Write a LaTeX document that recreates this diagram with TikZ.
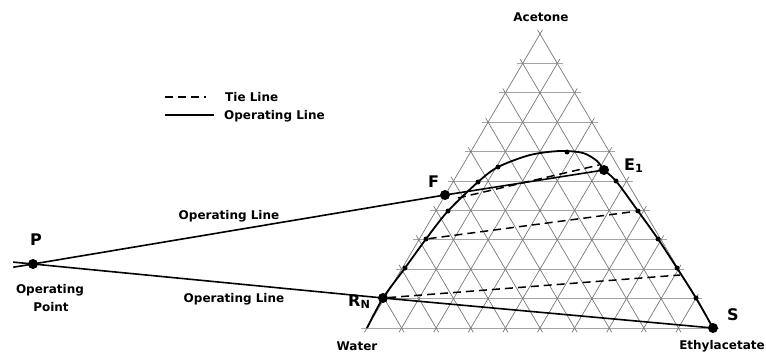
\documentclass[tikz,border=0pt]{standalone}
\usepackage{fontspec}
\setmainfont{DejaVu Sans}
\usepackage{tikz}
\usetikzlibrary{calc}
\definecolor{gridc}{RGB}{120,120,120}
\definecolor{hgridc}{RGB}{165,165,165}

\begin{document}
\begin{tikzpicture}[x=1pt, y=-1pt,
  every node/.style={font=\fontsize{12}{14}\selectfont\bfseries, inner sep=0pt},
  big/.style={font=\fontsize{16}{18}\selectfont\bfseries},
  dotbig/.style={circle, fill, minimum size=10pt, inner sep=0pt},
  dotsm/.style={circle, fill, minimum size=5pt, inner sep=0pt},
  gline/.style={gridc, line width=0.7pt, shorten <=-5pt, shorten >=-5pt},
  hline/.style={hgridc, line width=1pt, shorten <=-6pt, shorten >=-6pt},
  opline/.style={line width=1.6pt},
  tieline/.style={line width=1.5pt, dash pattern=on 8pt off 5pt}]
  \useasboundingbox (0,0) rectangle (766,356);
  \coordinate (W) at (367,328);
  \coordinate (A) at (540,34);
  \coordinate (Sv) at (713,328);
  \foreach \i in {0,...,10} {
    \coordinate (l\i) at ($(W)!\i/10!(A)$);
    \coordinate (r\i) at ($(Sv)!\i/10!(A)$);
    \coordinate (b\i) at ($(W)!\i/10!(Sv)$);
  }
  \foreach \i in {0,...,9} \draw[hline] (l\i) -- (r\i);
  \foreach \i in {0,...,9} { \pgfmathtruncatemacro{\j}{10-\i} \draw[gline] (b\i) -- (r\j); }
  \foreach \i in {1,...,10} \draw[gline] (b\i) -- (l\i);
  \node[dotbig] (P) at (33,264) {};
  \node[dotbig] (F) at (445,195) {};
  \node[dotbig] (E1) at (604,170) {};
  \node[dotbig] (RN) at (383,298) {};
  \node[dotbig] (S) at (713,328) {};
  \foreach \x/\y [count=\k] in {405/268, 426/239, 448/211, 478/182, 498/167, 567/152,
    616/181, 638/211, 658/239, 677/268, 696/298}
    \node[dotsm] (c\k) at (\x,\y) {};
  \coordinate (t1a) at (458,198);
  \coordinate (t1b) at (599,165);
  \coordinate (t3b) at (680,275);
  \draw[tieline] (t1a) -- (t1b);
  \draw[tieline] (c2) -- (c8);
  \draw[tieline] (RN) -- (t3b);
  \draw[line width=1.8pt] plot[smooth, tension=0.5] coordinates {(367,328) (383,298) (405,268)
    (426,239) (448,211) (478,182) (498,167) (530,155) (560,151) (583,153) (597,161) (604,170)
    (616,181) (638,211) (658,239) (677,268) (696,298) (713,328)};
  \coordinate (Pu) at ($(P)!-20pt!(E1)$);
  \coordinate (Pd) at ($(P)!-20pt!(S)$);
  \draw[opline] (Pu) -- (P.center) -- (F.center) -- (E1.center);
  \draw[opline] (Pd) -- (P.center) -- (RN.center) -- (S.center);
  \coordinate (lg1a) at (165,97);
  \coordinate (lg1b) at (206,97);
  \coordinate (lg2a) at (165,115);
  \coordinate (lg2b) at (214,115);
  \draw[tieline] (lg1a) -- (lg1b);
  \draw[opline] (lg2a) -- (lg2b);
  \node[anchor=base west] (lgtie) at (225,101) {Tie Line};
  \node[anchor=base west] (lgop) at (224,119) {Operating Line};
  \node[anchor=base] (acetone) at (541,21) {Acetone};
  \node[anchor=base] (water) at (357,350) {Water};
  \node[anchor=base] (ethyl) at (722,349) {Ethylacetate};
  \node[anchor=base] (opup) at (229,219) {Operating Line};
  \node[anchor=base] (opdn) at (234,302) {Operating Line};
  \node[anchor=base] (opA) at (50,293) {Operating};
  \node[anchor=base] (opB) at (51,311) {Point};
  \node[big, anchor=base west] (Plbl) at (30,245) {P};
  \node[big, anchor=base west] (Flbl) at (428,187) {F};
  \node[big, anchor=base west] (E1lbl) at (624,170) {E\textsubscript{1}};
  \node[big, anchor=base west] (RNlbl) at (348,306) {R\textsubscript{N}};
  \node[big, anchor=base west] (Slbl) at (727,320) {S};
\end{tikzpicture}
\end{document}
